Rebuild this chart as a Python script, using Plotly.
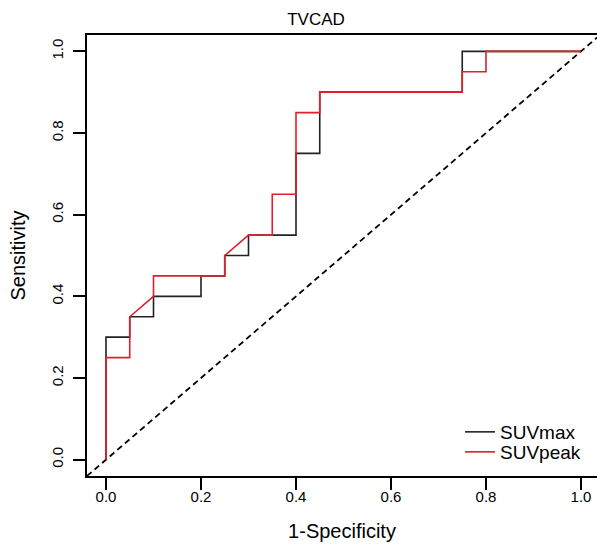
import plotly.graph_objects as go

# ROC curve data (1-Specificity, Sensitivity)
suvmax_fpr = [0, 0, 0.05, 0.05, 0.10, 0.10, 0.20, 0.20, 0.25, 0.25, 0.30, 0.30, 0.40, 0.40, 0.45, 0.45, 0.75, 0.75, 1.0]
suvmax_tpr = [0, 0.30, 0.30, 0.35, 0.35, 0.40, 0.40, 0.45, 0.45, 0.50, 0.50, 0.55, 0.55, 0.75, 0.75, 0.90, 0.90, 1.0, 1.0]

suvpeak_fpr = [0, 0, 0.05, 0.05, 0.10, 0.10, 0.25, 0.25, 0.30, 0.35, 0.35, 0.40, 0.40, 0.45, 0.45, 0.75, 0.75, 0.80, 0.80, 1.0]
suvpeak_tpr = [0, 0.25, 0.25, 0.35, 0.40, 0.45, 0.45, 0.50, 0.55, 0.55, 0.65, 0.65, 0.85, 0.85, 0.90, 0.90, 0.95, 0.95, 1.0, 1.0]

ref_line = [-0.04, 1.04]
tick_vals = [0.0, 0.2, 0.4, 0.6, 0.8, 1.0]
tick_text = ["0.0", "0.2", "0.4", "0.6", "0.8", "1.0"]

FONT = "Liberation Sans, Arial, Helvetica, sans-serif"

fig = go.Figure()
fig.add_trace(go.Scatter(x=ref_line, y=ref_line, mode="lines",
                         line=dict(color="black", width=1.8, dash="6px,4px"),
                         showlegend=False, hoverinfo="skip"))
fig.add_trace(go.Scatter(x=suvmax_fpr, y=suvmax_tpr, mode="lines", name="SUVmax",
                         line=dict(color="#222222", width=1.6), legend="legend"))
fig.add_trace(go.Scatter(x=suvpeak_fpr, y=suvpeak_tpr, mode="lines", name="SUVpeak",
                         line=dict(color="#e0202a", width=1.6), legend="legend2"))

# plot area: x 87..597 px, y 35..476 px
def py(px):
    return (476 - px) / (476 - 35)

leg_common = dict(xanchor="left", yanchor="middle", bgcolor="rgba(255,255,255,0)",
                  borderwidth=0, font=dict(size=19, color="black"))

fig.update_layout(
    width=597, height=550,
    margin=dict(l=87, r=0, t=35, b=74, autoexpand=False),
    paper_bgcolor="white", plot_bgcolor="white",
    font=dict(family=FONT, color="black"),
    title=dict(text="TVCAD", font=dict(size=17, color="black"),
               x=316/597, xref="container", xanchor="center",
               y=1-19/550, yref="container", yanchor="middle"),
    showlegend=True,
    legend=dict(x=(460-87)/510, y=py(432), **leg_common),
    legend2=dict(x=(460-87)/510, y=py(452), **leg_common),
    xaxis=dict(range=[-0.04, 1.0337], tickvals=tick_vals, ticktext=tick_text,
               showgrid=False, zeroline=False, automargin=False,
               showline=True, mirror=True, linecolor="black", linewidth=1.5,
               ticks="outside", ticklen=12, tickwidth=1.5, tickcolor="black",
               tickfont=dict(size=15), ticklabelstandoff=-6,
               title=dict(text="1-Specificity", font=dict(size=20), standoff=20)),
    yaxis=dict(range=[-0.04, 1.04], tickvals=tick_vals, ticktext=tick_text,
               showgrid=False, zeroline=False, automargin=False,
               showline=True, mirror=False, linecolor="black", linewidth=1.5,
               ticks="outside", ticklen=12, tickwidth=1.5, tickcolor="black",
               tickangle=-90, tickfont=dict(size=15), ticklabelstandoff=4,
               title=dict(text="Sensitivity", font=dict(size=20), standoff=18)),
)

fig.write_html("out.html", config={"displayModeBar": False},
               post_script="document.body.style.margin='0';document.body.style.overflow='hidden';")
